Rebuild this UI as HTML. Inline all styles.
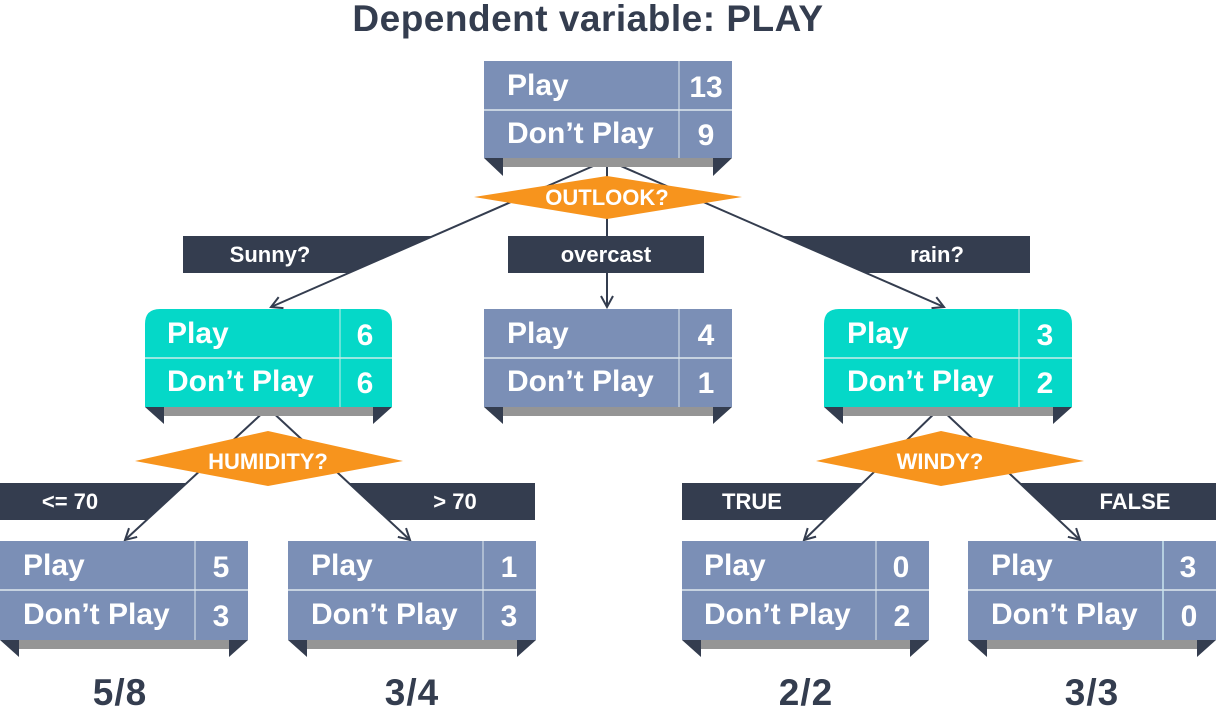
<!DOCTYPE html>
<html><head><meta charset="utf-8"><style>
html,body{margin:0;padding:0;background:#fff}
svg{display:block}
text{font-family:"Liberation Sans",sans-serif;font-weight:bold}
</style></head><body>
<svg width="1217" height="716" viewBox="0 0 1217 716" xmlns="http://www.w3.org/2000/svg">
<defs>
<marker id="ar" markerWidth="14" markerHeight="14" refX="12" refY="7" orient="auto" markerUnits="userSpaceOnUse">
<path d="M1,1 L12,7 L1,13" fill="none" stroke="#343d4f" stroke-width="2"/>
</marker>
</defs>
<text x="588" y="31" font-size="37" fill="#343d4f" text-anchor="middle" letter-spacing="0.5">Dependent variable: PLAY</text>

<!-- label bars (cut by connectors) -->
<g fill="#343d4f">
<polygon points="183,236 433,236 349,273 183,273"/>
<polygon points="781,236 1030,236 1030,273 866,273"/>
<polygon points="0,483 187,483 147,520 0,520"/>
<polygon points="349,483 535,483 535,520 389,520"/>
<polygon points="682,483 863,483 825,520 682,520"/>
<polygon points="1020,483 1216,483 1216,520 1059,520"/>
</g>

<!-- connectors -->
<g stroke="#343d4f" stroke-width="2" fill="none" marker-end="url(#ar)">
<line x1="607" y1="160" x2="271" y2="307"/>
<line x1="607" y1="160" x2="607" y2="307"/>
<line x1="607" y1="160" x2="944" y2="307"/>
<line x1="268" y1="408" x2="125" y2="540"/>
<line x1="268" y1="408" x2="410" y2="540"/>
<line x1="940" y1="408" x2="804" y2="540"/>
<line x1="940" y1="408" x2="1080" y2="540"/>
</g>
<rect x="508" y="236" width="196" height="37" fill="#343d4f"/>

<g fill="#fff" font-size="22">
<text x="270" y="262" text-anchor="middle">Sunny?</text>
<text x="606" y="262" text-anchor="middle">overcast</text>
<text x="937" y="262" text-anchor="middle">rain?</text>
<text x="70" y="509" text-anchor="middle">&lt;= 70</text>
<text x="455" y="509" text-anchor="middle">&gt; 70</text>
<text x="752" y="509" text-anchor="middle">TRUE</text>
<text x="1135" y="509" text-anchor="middle">FALSE</text>
</g>

<!-- diamonds -->
<g fill="#f7941d">
<polygon points="474,197 607,176 742,197 607,219"/>
<polygon points="135,461 268,431 403,461 268,486"/>
<polygon points="816,461 941,431 1084,461 941,486"/>
</g>
<g fill="#fff" font-size="22" text-anchor="middle">
<text x="607" y="205">OUTLOOK?</text>
<text x="268" y="469">HUMIDITY?</text>
<text x="940" y="469">WINDY?</text>
</g>

<!-- boxes -->
<g font-size="30" fill="#fff">
<!-- root -->
<rect x="503" y="158" width="210" height="9" fill="#959595"/>
<polygon points="484,158 503,158 503,176" fill="#343d4f"/><polygon points="713,158 732,158 713,176" fill="#343d4f"/>
<rect x="484" y="61" width="248" height="97" fill="#7b8fb6"/>
<line x1="484" y1="110" x2="732" y2="110" stroke="#dfe8ee" stroke-width="1.5"/><line x1="679" y1="61" x2="679" y2="158" stroke="#dfe8ee" stroke-width="1"/>
<text x="507" y="95">Play</text><text x="507" y="143">Don’t Play</text>
<text x="706" y="97" text-anchor="middle">13</text><text x="706" y="145" text-anchor="middle">9</text>

<!-- sunny -->
<rect x="164" y="407" width="209" height="9" fill="#959595"/>
<polygon points="145,407 164,407 164,424" fill="#343d4f"/><polygon points="373,407 392,407 373,424" fill="#343d4f"/>
<path d="M145,324 Q145,309 160,309 L377,309 Q392,309 392,324 L392,407 L145,407 Z" fill="#05d8c8"/>
<line x1="145" y1="358" x2="392" y2="358" stroke="#c9eee9" stroke-width="1.5"/><line x1="340" y1="309" x2="340" y2="407" stroke="#c9eee9" stroke-width="1"/>
<text x="167" y="343">Play</text><text x="167" y="391">Don’t Play</text>
<text x="365" y="345" text-anchor="middle">6</text><text x="365" y="393" text-anchor="middle">6</text>

<!-- overcast -->
<rect x="503" y="407" width="210" height="9" fill="#959595"/>
<polygon points="484,407 503,407 503,424" fill="#343d4f"/><polygon points="713,407 732,407 713,424" fill="#343d4f"/>
<rect x="484" y="309" width="248" height="98" fill="#7b8fb6"/>
<line x1="484" y1="358" x2="732" y2="358" stroke="#dfe8ee" stroke-width="1.5"/><line x1="679" y1="309" x2="679" y2="407" stroke="#dfe8ee" stroke-width="1"/>
<text x="507" y="343">Play</text><text x="507" y="391">Don’t Play</text>
<text x="706" y="345" text-anchor="middle">4</text><text x="706" y="393" text-anchor="middle">1</text>

<!-- rain -->
<rect x="843" y="407" width="210" height="9" fill="#959595"/>
<polygon points="824,407 843,407 843,424" fill="#343d4f"/><polygon points="1053,407 1072,407 1053,424" fill="#343d4f"/>
<path d="M824,324 Q824,309 839,309 L1057,309 Q1072,309 1072,324 L1072,407 L824,407 Z" fill="#05d8c8"/>
<line x1="824" y1="358" x2="1072" y2="358" stroke="#c9eee9" stroke-width="1.5"/><line x1="1019" y1="309" x2="1019" y2="407" stroke="#c9eee9" stroke-width="1"/>
<text x="847" y="343">Play</text><text x="847" y="391">Don’t Play</text>
<text x="1045" y="345" text-anchor="middle">3</text><text x="1045" y="393" text-anchor="middle">2</text>

<!-- leaf1 -->
<rect x="19" y="640" width="210" height="9" fill="#959595"/>
<polygon points="0,640 19,640 19,657" fill="#343d4f"/><polygon points="229,640 248,640 229,657" fill="#343d4f"/>
<rect x="0" y="541" width="248" height="99" fill="#7b8fb6"/>
<line x1="0" y1="590" x2="248" y2="590" stroke="#dfe8ee" stroke-width="1.5"/><line x1="195" y1="541" x2="195" y2="640" stroke="#dfe8ee" stroke-width="1"/>
<text x="23" y="575">Play</text><text x="23" y="624">Don’t Play</text>
<text x="221" y="577" text-anchor="middle">5</text><text x="221" y="626" text-anchor="middle">3</text>

<!-- leaf2 -->
<rect x="307" y="640" width="210" height="9" fill="#959595"/>
<polygon points="288,640 307,640 307,657" fill="#343d4f"/><polygon points="517,640 536,640 517,657" fill="#343d4f"/>
<rect x="288" y="541" width="248" height="99" fill="#7b8fb6"/>
<line x1="288" y1="590" x2="536" y2="590" stroke="#dfe8ee" stroke-width="1.5"/><line x1="483" y1="541" x2="483" y2="640" stroke="#dfe8ee" stroke-width="1"/>
<text x="311" y="575">Play</text><text x="311" y="624">Don’t Play</text>
<text x="509" y="577" text-anchor="middle">1</text><text x="509" y="626" text-anchor="middle">3</text>

<!-- leaf3 -->
<rect x="701" y="640" width="209" height="9" fill="#959595"/>
<polygon points="682,640 701,640 701,657" fill="#343d4f"/><polygon points="910,640 929,640 910,657" fill="#343d4f"/>
<rect x="682" y="541" width="247" height="99" fill="#7b8fb6"/>
<line x1="682" y1="590" x2="929" y2="590" stroke="#dfe8ee" stroke-width="1.5"/><line x1="876" y1="541" x2="876" y2="640" stroke="#dfe8ee" stroke-width="1"/>
<text x="704" y="575">Play</text><text x="704" y="624">Don’t Play</text>
<text x="901" y="577" text-anchor="middle">0</text><text x="902" y="626" text-anchor="middle">2</text>

<!-- leaf4 -->
<rect x="987" y="640" width="210" height="9" fill="#959595"/>
<polygon points="968,640 987,640 987,657" fill="#343d4f"/><polygon points="1197,640 1216,640 1197,657" fill="#343d4f"/>
<rect x="968" y="541" width="248" height="99" fill="#7b8fb6"/>
<line x1="968" y1="590" x2="1216" y2="590" stroke="#dfe8ee" stroke-width="1.5"/><line x1="1163" y1="541" x2="1163" y2="640" stroke="#c9e4ee" stroke-width="1.5"/>
<text x="991" y="575">Play</text><text x="991" y="624">Don’t Play</text>
<text x="1188" y="577" text-anchor="middle">3</text><text x="1189" y="626" text-anchor="middle">0</text>
</g>

<g font-size="37" fill="#343d4f" text-anchor="middle" letter-spacing="1">
<text x="120" y="705">5/8</text>
<text x="412" y="705">3/4</text>
<text x="806" y="705">2/2</text>
<text x="1092" y="705">3/3</text>
</g>
</svg>
</body></html>
